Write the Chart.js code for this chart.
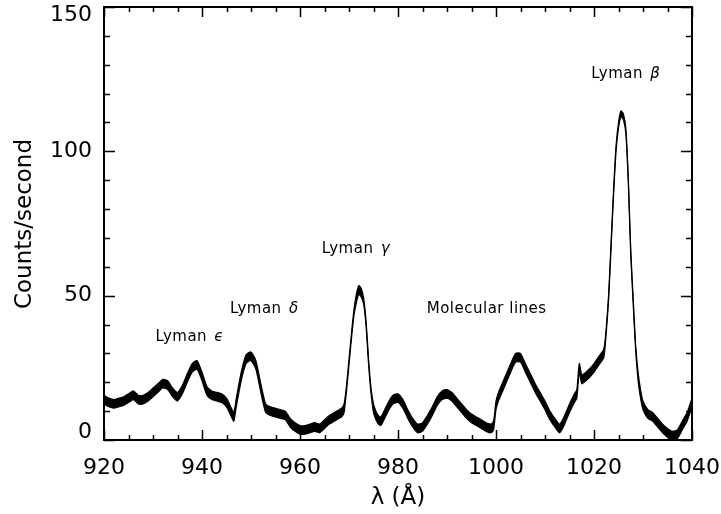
<!DOCTYPE html>
<html>
<head>
<meta charset="utf-8">
<script src="https://cdn.jsdelivr.net/npm/chart.js@4.4.1/dist/chart.umd.min.js"></script>
<style>
  html, body { margin: 0; padding: 0; background: #fff; }
  #wrap { width: 721px; height: 514px; }
</style>
</head>
<body>
<div id="wrap"><canvas id="spectrum" width="721" height="514"></canvas></div>
<script>
// spectrum: noise band as upper / lower envelope
const wavelength = [
  920, 921, 922, 923, 924, 925, 926, 927, 928, 929,
  930, 931, 932, 933, 934, 935, 936, 937, 938, 939,
  940, 941, 942, 943, 944, 945, 946, 946.5, 947, 948, 949,
  950, 951, 952, 953, 954, 955, 956, 957, 958, 959,
  960, 961, 962, 963, 964, 965, 966, 967, 968, 968.5,
  969, 969.5, 970, 970.5, 971, 971.5, 972, 972.5, 973, 973.5,
  974, 974.5, 975, 975.5, 976, 976.5, 977, 978, 979,
  980, 981, 982, 983, 984, 985, 986, 987, 988, 989,
  990, 991, 992, 993, 994, 995, 996, 997, 998, 999, 999.5,
  1000, 1000.5, 1001, 1002, 1003, 1004, 1005, 1006, 1007, 1008, 1009,
  1010, 1011, 1012, 1013, 1014, 1015, 1016, 1016.5, 1017, 1017.5, 1018, 1019,
  1020, 1021, 1022, 1022.5, 1023, 1023.5, 1024, 1024.5, 1025, 1025.5,
  1026, 1026.5, 1027, 1027.5, 1028, 1028.5, 1029, 1029.5,
  1030, 1031, 1032, 1033, 1034, 1035, 1036, 1037, 1038, 1039, 1040
];
const upperCounts = [
  15.5, 14.5, 14, 14.5, 15, 16, 17, 15.5, 15.5, 16.5,
  18, 19.5, 21, 20.5, 18, 16.5, 19, 23, 26.5, 27.5,
  23.5, 18.5, 17, 16.5, 16, 14.5, 11, 9.5, 14.5, 23.5, 29.5,
  30.5, 27.5, 19.5, 12.5, 11.5, 11, 10.5, 10, 7.5, 6,
  5, 5, 5.5, 6, 5.5, 7, 8.5, 9.5, 10.5, 11,
  12.5, 19, 28, 37, 45, 50.5, 53.5, 52.5, 49, 41,
  28, 18, 12.5, 10, 8.5, 8, 9.5, 13, 15.5,
  16, 14, 10.5, 7.5, 5.5, 6, 8.5, 11.5, 15, 17,
  17.5, 16.5, 14.5, 12.5, 10.5, 9, 8, 7, 6, 5.5, 6.5,
  13.5, 16.5, 18.5, 22.5, 26.5, 30, 30, 26.5, 23, 19.5, 16.5,
  13.5, 10, 7.5, 5.5, 8.5, 12.5, 16, 17.5, 26.5, 22.5, 23, 24.5,
  26.5, 29, 31.5, 39, 51, 69, 87, 102, 110, 114,
  113, 108, 91, 66, 49, 33, 23.5, 17.5,
  13.5, 10.5, 9.5, 7.5, 5.5, 4, 3, 3.5, 6.5, 9.5, 14.5
];
const lowerCounts = [
  12.5, 11.5, 11, 11.5, 12, 13, 14, 12.5, 12.5, 13.5,
  15, 16.5, 18, 17.5, 15, 13.5, 16, 20, 23.5, 24.5,
  20.5, 15.5, 14, 13.5, 13, 11.5, 8, 6.5, 11.5, 20.5, 26.5,
  27.5, 24.5, 16.5, 9.5, 8.5, 8, 7.5, 7, 4.5, 3,
  2, 2, 2.5, 3, 2.5, 4, 5.5, 6.5, 7.5, 8,
  9.5, 17, 26, 35, 43, 47.5, 50.5, 49.5, 47, 39,
  26, 16, 9.5, 7, 5.5, 5, 6.5, 10, 12.5,
  13, 11, 7.5, 4.5, 2.5, 3, 5.5, 8.5, 12, 14,
  14.5, 13.5, 11.5, 9.5, 7.5, 6, 5, 4, 3, 2.5, 3.5,
  10.5, 13.5, 15.5, 19.5, 23.5, 27, 27, 23.5, 20, 16.5, 13.5,
  10.5, 7, 4.5, 2.5, 5.5, 9.5, 13, 14.5, 23.5, 19.5, 20, 21.5,
  23.5, 26, 28.5, 37, 49, 67, 85, 100, 108, 112,
  111, 106, 89, 64, 47, 31, 20.5, 14.5,
  10.5, 7.5, 6.5, 4.5, 2.5, 1, 0.5, 0.5, 3.5, 6.5, 11.5
];

const xMajorTicks = [920, 940, 960, 980, 1000, 1020, 1040];
const xMinorTicks = [925, 930, 935, 945, 950, 955, 965, 970, 975, 985, 990, 995,
                     1005, 1010, 1015, 1025, 1030, 1035];
const yMajorTicks = [0, 50, 100, 150];
const yMinorTicks = [10, 20, 30, 40, 60, 70, 80, 90, 110, 120, 130, 140];

const lineNames = ['Lyman', 'Lyman', 'Lyman', 'Molecular lines', 'Lyman'];
const lineSymbols = ['\u03F5', '\u03B4', '\u03B3', '', '\u03B2'];
const labelWavelength = [937.3, 952.5, 971.2, 998.1, 1026.3];
const labelCounts = [34.4, 44.1, 64.9, 44.1, 125.5];

const xTitle = '\u03BB (\u00C5)';
const yTitle = 'Counts/second';

const FONT = '"DejaVu Sans", sans-serif';

// frame, inward ticks, tick labels, axis titles, line labels
const framePlugin = {
    id: 'frame',
    afterDraw(chart) {
        const ctx = chart.ctx;
        const area = chart.chartArea;
        const xs = chart.scales.x;
        const ys = chart.scales.y;
        ctx.save();
        ctx.strokeStyle = '#000';
        ctx.lineWidth = 2;
        ctx.strokeRect(area.left, area.top, area.right - area.left, area.bottom - area.top);

        ctx.lineWidth = 1.5;
        ctx.beginPath();
        const xTick = (v, len) => {
            const px = Math.round(xs.getPixelForValue(v)) + 0.5;
            ctx.moveTo(px, area.bottom); ctx.lineTo(px, area.bottom - len);
            ctx.moveTo(px, area.top); ctx.lineTo(px, area.top + len);
        };
        const yTick = (v, len) => {
            const py = Math.round(ys.getPixelForValue(v)) + 0.5;
            ctx.moveTo(area.left, py); ctx.lineTo(area.left + len, py);
            ctx.moveTo(area.right, py); ctx.lineTo(area.right - len, py);
        };
        xMajorTicks.forEach(v => xTick(v, 10));
        xMinorTicks.forEach(v => xTick(v, 5));
        yMajorTicks.forEach(v => yTick(v, 11));
        yMinorTicks.forEach(v => yTick(v, 6));
        ctx.stroke();

        ctx.fillStyle = '#000';
        ctx.font = '22px ' + FONT;
        ctx.textAlign = 'center';
        ctx.textBaseline = 'middle';
        xMajorTicks.forEach(v => {
            ctx.fillText(String(v), xs.getPixelForValue(v), area.bottom + 28);
        });
        ctx.textAlign = 'right';
        yMajorTicks.forEach(v => {
            let py = ys.getPixelForValue(v);
            py = Math.min(Math.max(py, area.top + 8), area.bottom - 8);
            ctx.fillText(String(v), area.left - 12, py);
        });

        ctx.font = '23px ' + FONT;
        ctx.textAlign = 'center';
        ctx.fillText(xTitle, (area.left + area.right) / 2, 498);
        ctx.save();
        ctx.translate(25, 224);
        ctx.rotate(-Math.PI / 2);
        ctx.fillText(yTitle, 0, 0);
        ctx.restore();

        ctx.textBaseline = 'alphabetic';
        ctx.textAlign = 'left';
        lineNames.forEach((name, i) => {
            const plain = '15px ' + FONT;
            const greek = 'italic 15px ' + FONT;
            ctx.letterSpacing = '0.5px';
            ctx.font = plain;
            const head = lineSymbols[i] ? name + ' ' : name;
            const wHead = ctx.measureText(head).width;
            ctx.font = greek;
            const wSym = lineSymbols[i] ? ctx.measureText(lineSymbols[i]).width : 0;
            const cx = xs.getPixelForValue(labelWavelength[i]);
            const by = ys.getPixelForValue(labelCounts[i]);
            const x0 = cx - (wHead + wSym) / 2;
            ctx.font = plain;
            ctx.fillText(head, x0, by);
            if (lineSymbols[i]) {
                ctx.font = greek;
                ctx.fillText(lineSymbols[i], x0 + wHead + 2, by);
            }
        });
        ctx.restore();
    }
};

const toPoints = values => wavelength.map((w, i) => ({ x: w, y: values[i] }));

new Chart(document.getElementById('spectrum').getContext('2d'), {
    type: 'line',
    data: {
        datasets: [
            {
                label: 'upper',
                data: toPoints(upperCounts),
                borderColor: '#000',
                borderWidth: 1.2,
                pointRadius: 0,
                tension: 0.2,
                fill: false
            },
            {
                label: 'lower',
                data: toPoints(lowerCounts),
                borderColor: '#000',
                backgroundColor: '#000',
                borderWidth: 1.2,
                pointRadius: 0,
                tension: 0.2,
                fill: '-1'
            }
        ]
    },
    options: {
        responsive: false,
        animation: false,
        devicePixelRatio: 1,
        layout: { padding: { top: 7, right: 29, left: 0, bottom: 0 } },
        plugins: {
            legend: { display: false },
            tooltip: { enabled: false }
        },
        scales: {
            x: {
                type: 'linear',
                min: 920,
                max: 1040,
                grid: { display: false },
                border: { display: false },
                ticks: { display: false },
                afterFit(scale) { scale.height = 74; }
            },
            y: {
                min: 0,
                max: 150,
                grid: { display: false },
                border: { display: false },
                ticks: { display: false },
                afterFit(scale) { scale.width = 104; }
            }
        }
    },
    plugins: [framePlugin]
});
</script>
</body>
</html>
